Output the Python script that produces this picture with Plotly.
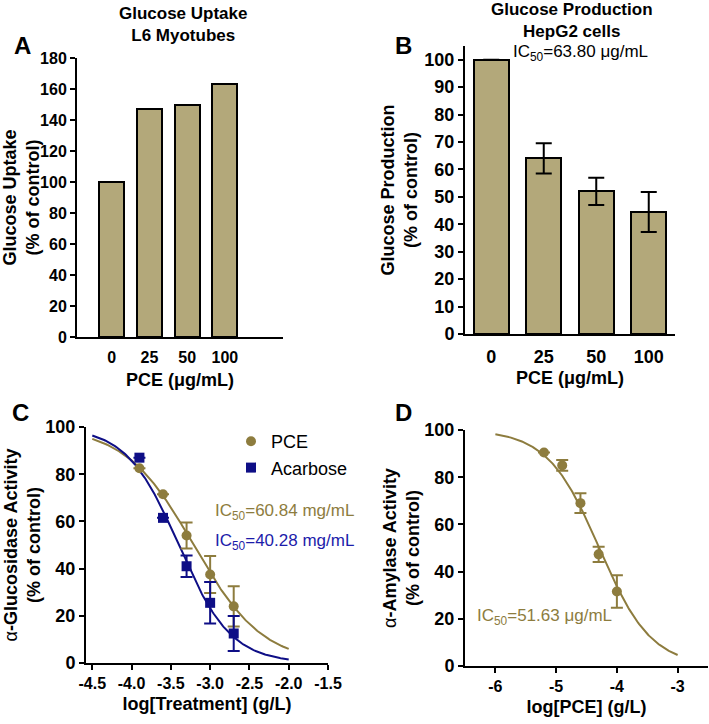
import numpy as np
import plotly.graph_objects as go

# ---------------- data ----------------
dose_labels = ["0", "25", "50", "100"]
uptake_vals = [100, 147, 150, 163]

production_vals = [100, 64, 52, 44.5]
production_err = [0, 5.5, 5.0, 7.3]

gluc_x = [-3.9, -3.6, -3.3, -3.0, -2.7]
pce_gluc = [82.5, 71.5, 54.0, 37.5, 24.0]
pce_gluc_err = [0, 0, 5.5, 7.8, 8.5]
acarb_gluc = [87.0, 61.5, 41.0, 25.5, 12.5]
acarb_gluc_err = [0, 0, 4.6, 8.8, 7.4]

amy_x = [-5.2, -4.9, -4.6, -4.3, -4.0]
pce_amy = [90.5, 85.0, 69.0, 47.3, 31.6]
pce_amy_err = [0, 2.3, 4.2, 3.2, 6.9]

# fitted 4-parameter logistic parameters (top, bottom, logIC50, hill)
fit_pce_gluc = [100, 0, -3.21, 0.99]
fit_acarb_gluc = [100, 0, -3.40, 1.30]
fit_pce_amy = [100, 0, -4.29, 1.015]

c_ticks = [-4.5, -4.0, -3.5, -3.0, -2.5, -2.0, -1.5]
c_ticktext = ["-4.5", "-4.0", "-3.5", "-3.0", "-2.5", "-2.0", "-1.5"]
d_ticks = [-6, -5, -4, -3]
d_ticktext = ["-6", "-5", "-4", "-3"]


def logistic(x, p):
    top, bottom, logic, h = p
    return bottom + (top - bottom) / (1 + 10 ** ((x - logic) * h))


W, H = 709, 724
FONT = "Liberation Sans, Arial, sans-serif"
BAR = "#b3a87a"
GOLD = "#8d7c3e"
NAVY = "#0e0e86"
NAVY_T = "#1c1caa"


def px(x):
    return x / W


def py(y):
    return 1 - y / H


fig = go.Figure()

# A
fig.add_trace(go.Bar(x=[0, 1, 2, 3], y=uptake_vals, width=0.66,
                     marker=dict(color=BAR, line=dict(color="black", width=2)),
                     xaxis="x", yaxis="y", showlegend=False))
# B
fig.add_trace(go.Bar(x=[0, 1, 2, 3], y=production_vals, width=0.66,
                     marker=dict(color=BAR, line=dict(color="black", width=2)),
                     error_y=dict(type="data", array=production_err, color="black",
                                  thickness=2, width=8),
                     xaxis="x2", yaxis="y2", showlegend=False))
# C curves
xc = np.linspace(-4.5, -2.0, 200)
fig.add_trace(go.Scatter(x=xc, y=logistic(xc, fit_pce_gluc), mode="lines",
                         line=dict(color=GOLD, width=2), xaxis="x3", yaxis="y3",
                         showlegend=False, hoverinfo="skip"))
fig.add_trace(go.Scatter(x=xc, y=logistic(xc, fit_acarb_gluc), mode="lines",
                         line=dict(color=NAVY, width=2), xaxis="x3", yaxis="y3",
                         showlegend=False, hoverinfo="skip"))
fig.add_trace(go.Scatter(x=gluc_x, y=pce_gluc, mode="markers", name="PCE",
                         marker=dict(color=GOLD, size=10, symbol="circle"),
                         error_y=dict(type="data", array=pce_gluc_err, color=GOLD,
                                      thickness=2, width=6),
                         xaxis="x3", yaxis="y3"))
fig.add_trace(go.Scatter(x=gluc_x, y=acarb_gluc, mode="markers", name="Acarbose",
                         marker=dict(color=NAVY, size=10, symbol="square"),
                         error_y=dict(type="data", array=acarb_gluc_err, color=NAVY,
                                      thickness=2, width=6),
                         xaxis="x3", yaxis="y3"))
# D
xd = np.linspace(-6.0, -3.0, 200)
fig.add_trace(go.Scatter(x=xd, y=logistic(xd, fit_pce_amy), mode="lines",
                         line=dict(color=GOLD, width=2), xaxis="x4", yaxis="y4",
                         showlegend=False, hoverinfo="skip"))
fig.add_trace(go.Scatter(x=amy_x, y=pce_amy, mode="markers",
                         marker=dict(color=GOLD, size=10, symbol="circle"),
                         error_y=dict(type="data", array=pce_amy_err, color=GOLD,
                                      thickness=2, width=6),
                         xaxis="x4", yaxis="y4", showlegend=False))


def tf(size):
    return dict(family=FONT, size=size, color="black", weight="bold")


titlefont = dict(family=FONT, size=18, color="black", weight="bold")
titlefont_n = dict(family=FONT, size=18, color="black")


def ax(**kw):
    base = dict(showline=True, linecolor="black", linewidth=2, ticks="outside",
                ticklen=5, tickwidth=2, tickcolor="black", showgrid=False,
                zeroline=False, tickfont=tf(16), fixedrange=True,
                automargin=False)
    base.update(kw)
    return base


fig.update_layout(
    width=W, height=H, margin=dict(l=0, r=0, t=0, b=0),
    paper_bgcolor="white", plot_bgcolor="white",
    font=dict(family=FONT, color="black"),
    xaxis=ax(domain=[px(77), px(283)], range=[-0.92, 4.54], anchor="y",
             tickvals=[0, 1, 2, 3], ticktext=dose_labels, ticks="",
             ticklabelstandoff=5,
             title=dict(text="PCE (μg/mL)", font=titlefont, standoff=8)),
    yaxis=ax(domain=[py(337), py(58)], range=[0, 180], dtick=20, anchor="x",
             title=dict(text="Glucose Uptake<br>(% of control)", font=titlefont, standoff=4)),
    xaxis2=ax(domain=[px(465), px(675)], range=[-0.5, 3.5], anchor="y2",
              tickvals=[0, 1, 2, 3], ticktext=dose_labels, ticks="",
              ticklabelstandoff=5, tickfont=tf(18),
              title=dict(text="PCE (μg/mL)", font=titlefont, standoff=6)),
    yaxis2=ax(domain=[py(334), py(46)], range=[0, 105], tickfont=tf(18),
              tickvals=list(range(0, 101, 10)), anchor="x2",
              title=dict(text="Glucose Production<br>(% of control)", font=titlefont, standoff=2)),
    xaxis3=ax(domain=[px(86), px(328)], range=[-4.58, -1.5], anchor="y3",
              tickvals=c_ticks, ticktext=c_ticktext,
              title=dict(text="log[Treatment] (g/L)", font=titlefont, standoff=6)),
    yaxis3=ax(domain=[py(663), py(427)], range=[0, 100], dtick=20, anchor="x3",
              tickfont=tf(18),
              title=dict(text="α<b>-Glucosidase Activity</b><br><b>(% of control)</b>",
                         font=titlefont_n, standoff=0)),
    xaxis4=ax(domain=[px(465), px(708)], range=[-6.5, -2.5], anchor="y4",
              tickvals=d_ticks, ticktext=d_ticktext,
              title=dict(text="log[PCE] (g/L)", font=titlefont, standoff=6)),
    yaxis4=ax(domain=[py(666), py(430)], range=[0, 100], dtick=20, anchor="x4",
              tickfont=tf(18),
              title=dict(text="α<b>-Amylase Activity</b><br><b>(% of control)</b>",
                         font=titlefont_n, standoff=0)),
    legend=dict(x=px(231), y=py(423), xanchor="left", yanchor="top",
                font=dict(family=FONT, size=18, color="black"),
                bgcolor="rgba(0,0,0,0)", itemwidth=30, tracegroupgap=0),
    bargap=0,
)

ann = []


def add_text(x, y, text, size=15, color="black", bold=False, xanchor="center"):
    ann.append(dict(x=px(x), y=py(y), xref="paper", yref="paper", text=text,
                    showarrow=False, xanchor=xanchor, yanchor="middle",
                    font=dict(family=FONT, size=size, color=color,
                              weight="bold" if bold else "normal")))


add_text(183, 25, "Glucose Uptake<br>L6 Myotubes", 17, bold=True)
add_text(572, 20, "Glucose Production<br>HepG2 cells", 17, bold=True)
add_text(22, 45, "A", 24, bold=True)
add_text(403, 45, "B", 24, bold=True)
add_text(20, 413, "C", 24, bold=True)
add_text(403, 413, "D", 24, bold=True)
add_text(580, 53, "IC<sub>50</sub>=63.80 μg/mL", 17)
add_text(213, 512, "IC<sub>50</sub>=60.84 mg/mL", 17, color=GOLD, xanchor="left")
add_text(213, 542, "IC<sub>50</sub>=40.28 mg/mL", 17, color=NAVY_T, xanchor="left")
add_text(475, 617, "IC<sub>50</sub>=51.63 μg/mL", 17, color=GOLD, xanchor="left")

fig.update_layout(annotations=ann)
fig.write_html("out.html", config={"displayModeBar": False},
               post_script="document.body.style.margin='0';document.body.style.padding='0';")
